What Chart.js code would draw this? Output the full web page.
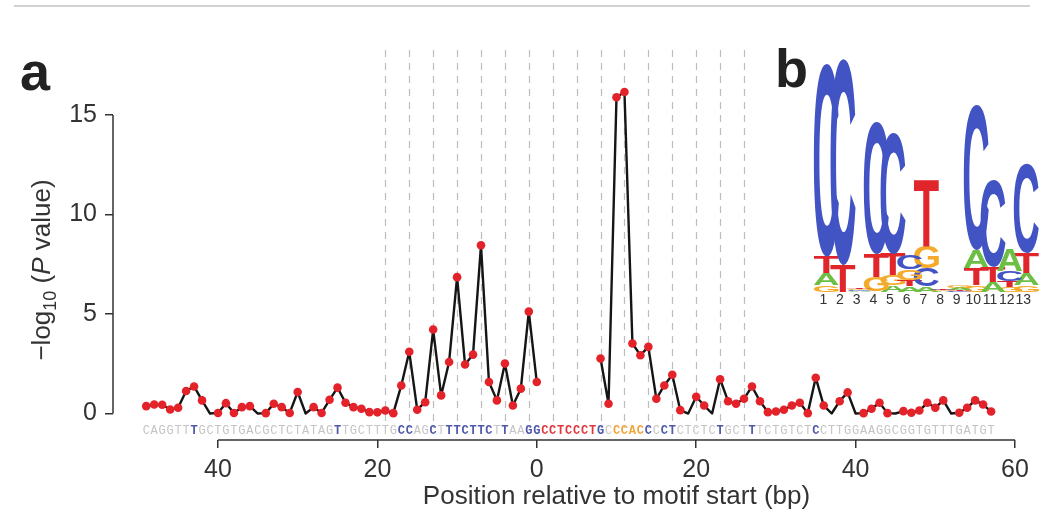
<!DOCTYPE html>
<html>
<head>
<meta charset="utf-8">
<script src="https://cdn.jsdelivr.net/npm/chart.js@4.4.0/dist/chart.umd.min.js"></script>
<style>
  body { margin: 0; background: #fff; }
  #wrap { position: relative; width: 1043px; height: 524px; overflow: hidden; }
  #rule { position: absolute; left: 14px; top: 5px; width: 1016px; height: 2px; background: #d2d2d2; }
  canvas { position: absolute; }
</style>
</head>
<body>
<div id="wrap">
  <div id="rule"></div>
  <canvas id="scan" width="1043" height="524" style="left:0;top:0"></canvas>
  <canvas id="logo" width="240" height="275" style="left:800px;top:40px"></canvas>
</div>
<script>
const FONT = '"Liberation Sans", Arial, Helvetica, sans-serif';

// -log10(P) for each position, starting at -49; the motif core (1..7) is not tested
const firstPos = -49;
const pValues = [
  0.37, 0.45, 0.44, 0.20, 0.29, 1.13, 1.36, 0.66, 0, 0.03,     // -49 .. -40
  0.52, 0.03, 0.32, 0.37, 0, 0.02, 0.49, 0.32, 0.03, 1.08,     // -39 .. -30
  0, 0.32, 0.03, 0.69, 1.30, 0.54, 0.32, 0.24, 0.07, 0.06,     // -29 .. -20
  0.15, 0.02, 1.41, 3.10, 0.19, 0.57, 4.22, 0.91, 2.59, 6.85,  // -19 .. -10
  2.46, 2.96, 8.45, 1.58, 0.66, 2.51, 0.40, 1.25, 5.12, 1.58,  //  -9 .. 0
  null, null, null, null, null, null, null,                    //   1 .. 7
  2.76, 0.49, 15.89, 16.15, 3.52, 2.93, 3.35, 0.74, 1.41, 1.95, //  8 .. 17
  0.17, 0, 0.84, 0.40, 0, 1.72, 0.62, 0.49, 0.74, 1.36,        // 18 .. 27
  0.62, 0.07, 0.10, 0.19, 0.40, 0.54, 0.02, 1.80, 0.40, 0,     // 28 .. 37
  0.62, 1.06, 0, 0.02, 0.24, 0.54, 0.02, 0, 0.12, 0.04,        // 38 .. 47
  0.15, 0.54, 0.29, 0.66, 0, 0.04, 0.29, 0.66, 0.45, 0.10      // 48 .. 57
];

// genomic sequence under the scan, one letter per position from -49
const sequence =
  'CAGGTTTGCTGTGACGCTCTATAGTTGCTTTGCCAGCTTTCTTCTTAAGG' +
  'CCTCCCTGCCCACCCCTCTCTCTGCTTTCTGTCTCCTTGGAAGGCGGTGTTTGATGT';
// g = plain, b = significant, r = motif core, o = motif tail
const seqColour =
  'ggggggbgggggggggggggggggbgggggggbbggbgbbbbbbgbggbb' +
  'rrrrrrrbgoooobgbbgggggbgggbgggggggbgggggggggggggggggggggg';
const letterColours = { g: '#c4c4c4', b: '#4d58aa', r: '#e0383c', o: '#f0a53c' };

const guidePositions = [-19, -16, -13, -10, -7, -4, -1, 2, 5, 8, 11, 14, 17, 20, 23, 26];
const xTicks = [-40, -20, 0, 20, 40, 60];
const yTicks = [0, 5, 10, 15];

// sequence logo, information content (bits) per base and motif column
const logoLabels = ['1', '2', '3', '4', '5', '6', '7', '8', '9', '10', '11', '12', '13'];
const logoA = [0.097, 0,     0.008, 0,     0.056, 0.045, 0.045, 0.005, 0.020, 0.153, 0.083, 0.181, 0.097];
const logoC = [1.61,  1.72,  0.008, 1.097, 1.014, 0.12,  0.15,  0.008, 0.005, 1.208, 0.722, 0.083, 0.75];
const logoG = [0.056, 0,     0.008, 0.125, 0.083, 0.09,  0.18,  0.005, 0.020, 0.056, 0,     0.042, 0.056];
const logoT = [0.139, 0.222, 0.008, 0.194, 0.18,  0.05,  0.556, 0.015, 0.005, 0.139, 0.125, 0.05,  0.167];
const baseColours = { A: '#6dbe45', C: '#4253c4', G: '#f4aa2a', T: '#e0262b' };

const scanPoints = pValues.map((v, i) => ({ x: firstPos + i, y: v }));

const scanDecor = {
  id: 'scanDecor',
  beforeDatasetsDraw(chart) {
    const { ctx, scales: { x } } = chart;
    ctx.save();
    ctx.strokeStyle = '#bdbdbd';
    ctx.lineWidth = 1.2;
    ctx.setLineDash([7, 6]);
    guidePositions.forEach(p => {
      const px = Math.round(x.getPixelForValue(p)) + 0.5;
      ctx.beginPath();
      ctx.moveTo(px, 50);
      ctx.lineTo(px, 428);
      ctx.stroke();
    });
    ctx.restore();
  },
  afterDraw(chart) {
    const { ctx, chartArea, scales: { x, y } } = chart;
    ctx.save();

    // sequence letters along the baseline
    ctx.textAlign = 'center';
    ctx.textBaseline = 'middle';
    for (let i = 0; i < sequence.length; i++) {
      const c = seqColour[i];
      ctx.font = (c === 'g' ? '' : 'bold ') + '12px "Liberation Mono", "Courier New", monospace';
      ctx.fillStyle = letterColours[c];
      ctx.fillText(sequence[i], x.getPixelForValue(firstPos + i), 431);
    }

    // axis lines only span the tick range
    ctx.strokeStyle = '#333';
    ctx.lineWidth = 1.5;
    ctx.beginPath();
    ctx.moveTo(x.getPixelForValue(xTicks[0]), chartArea.bottom);
    ctx.lineTo(x.getPixelForValue(xTicks[xTicks.length - 1]), chartArea.bottom);
    ctx.moveTo(chartArea.left, y.getPixelForValue(yTicks[0]));
    ctx.lineTo(chartArea.left, y.getPixelForValue(yTicks[yTicks.length - 1]));
    ctx.stroke();

    // x title
    ctx.fillStyle = '#333';
    ctx.font = '26px ' + FONT;
    ctx.textAlign = 'center';
    ctx.textBaseline = 'middle';
    const midX = (x.getPixelForValue(xTicks[0]) + x.getPixelForValue(xTicks[xTicks.length - 1])) / 2;
    ctx.fillText('Position relative to motif start (bp)', midX, 497);

    // y title: -log10 (P value)
    const parts = [
      ['\u2212log', '26px ' + FONT, 0],
      ['10', '18px ' + FONT, 6],
      [' (', '26px ' + FONT, 0],
      ['P', 'italic 26px ' + FONT, 0],
      [' value)', '26px ' + FONT, 0]
    ];
    let total = 0;
    parts.forEach(p => { ctx.font = p[1]; total += ctx.measureText(p[0]).width; });
    ctx.translate(50, 270);
    ctx.rotate(-Math.PI / 2);
    ctx.textAlign = 'left';
    ctx.textBaseline = 'alphabetic';
    let cx = -total / 2;
    parts.forEach(p => {
      ctx.font = p[1];
      ctx.fillText(p[0], cx, p[2]);
      cx += ctx.measureText(p[0]).width;
    });
    ctx.setTransform(1, 0, 0, 1, 0, 0);

    // panel letters
    ctx.fillStyle = '#222';
    ctx.font = 'bold 54px ' + FONT;
    ctx.fillText('a', 20, 90);
    ctx.fillText('b', 775, 87);
    ctx.restore();
  }
};

new Chart(document.getElementById('scan'), {
  type: 'line',
  data: {
    datasets: [{
      data: scanPoints,
      borderColor: '#151515',
      borderWidth: 2.4,
      borderJoinStyle: 'round',
      pointBackgroundColor: '#e3222a',
      pointBorderWidth: 0,
      pointRadius: c => (c.raw && c.raw.y === 0 ? 0 : 4.3),
      pointHoverRadius: 4.3,
      tension: 0,
      spanGaps: false
    }]
  },
  options: {
    responsive: false,
    animation: false,
    layout: { padding: { left: 0, right: 28, top: 57, bottom: 0 } },
    plugins: { legend: { display: false }, tooltip: { enabled: false } },
    scales: {
      x: {
        type: 'linear',
        min: -53.17,
        max: 60,
        afterBuildTicks: s => { s.ticks = xTicks.map(v => ({ value: v })); },
        afterFit: s => { s.height = 84; },
        border: { display: false },
        grid: { drawOnChartArea: false, drawTicks: true, tickLength: 8, color: '#333', lineWidth: 1.5 },
        ticks: {
          callback: v => Math.abs(v),
          font: { size: 25, family: FONT },
          color: '#333',
          padding: 7,
          maxRotation: 0,
          autoSkip: false
        }
      },
      y: {
        min: -1.33,
        max: 17.91,
        afterBuildTicks: s => { s.ticks = yTicks.map(v => ({ value: v })); },
        afterFit: s => { s.width = 113; },
        border: { display: false },
        grid: { drawOnChartArea: false, drawTicks: true, tickLength: 8, color: '#333', lineWidth: 1.5 },
        ticks: { font: { size: 25, family: FONT }, color: '#333', padding: 8 }
      }
    }
  },
  plugins: [scanDecor]
});

// logo: one stacked layer per rank so the smallest base sits at the bottom
const logoRows = { A: logoA, C: logoC, G: logoG, T: logoT };
const layers = [0, 1, 2, 3].map(() => ({ data: [], letters: [] }));
logoLabels.forEach((_, j) => {
  Object.keys(logoRows)
    .map(b => [b, logoRows[b][j]])
    .sort((p, q) => p[1] - q[1])
    .forEach(([b, v], k) => { layers[k].data.push(v); layers[k].letters.push(b); });
});

function drawGlyph(ctx, ch, left, top, w, h) {
  ctx.save();
  ctx.font = 'bold 200px ' + FONT;
  const m = ctx.measureText(ch);
  const gw = m.actualBoundingBoxLeft + m.actualBoundingBoxRight;
  const gh = m.actualBoundingBoxAscent + m.actualBoundingBoxDescent;
  ctx.translate(left, top);
  ctx.scale(w / gw, h / gh);
  ctx.fillStyle = baseColours[ch];
  ctx.textAlign = 'left';
  ctx.textBaseline = 'alphabetic';
  ctx.fillText(ch, m.actualBoundingBoxLeft, m.actualBoundingBoxAscent);
  ctx.restore();
}

const glyphs = {
  id: 'glyphs',
  afterDatasetsDraw(chart) {
    chart.data.datasets.forEach((ds, i) => {
      chart.getDatasetMeta(i).data.forEach((bar, j) => {
        const { x, y, base, width } = bar.getProps(['x', 'y', 'base', 'width'], true);
        const h = base - y;
        if (!(h > 0.3)) return;
        const w = width * 1.5;
        drawGlyph(chart.ctx, ds.letters[j], x + 3 - w / 2, y, w, h);
      });
    });
  }
};

new Chart(document.getElementById('logo'), {
  type: 'bar',
  data: {
    labels: logoLabels,
    datasets: layers.map(l => ({
      data: l.data,
      letters: l.letters,
      backgroundColor: 'rgba(0,0,0,0)',
      borderWidth: 0,
      barPercentage: 1,
      categoryPercentage: 1
    }))
  },
  options: {
    responsive: false,
    animation: false,
    layout: { padding: { left: 15, right: 8.3, top: 11.7, bottom: 0 } },
    plugins: { legend: { display: false }, tooltip: { enabled: false } },
    scales: {
      x: {
        stacked: true,
        afterFit: s => { s.height = 23.3; },
        grid: { display: false },
        border: { display: false },
        ticks: { font: { size: 14, family: FONT }, color: '#333', padding: -8, autoSkip: false, maxRotation: 0, minRotation: 0 }
      },
      y: { stacked: true, min: 0, max: 2, display: false }
    }
  },
  plugins: [glyphs]
});
</script>
</body>
</html>
